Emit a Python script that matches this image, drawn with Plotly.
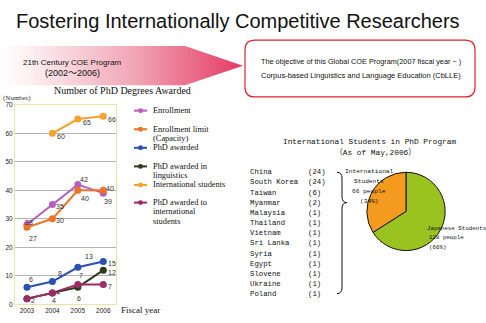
import plotly.graph_objects as go

# ---------------- data ----------------
years = [2003, 2004, 2005, 2006]
enrollment = [28, 35, 42, 39]
enroll_limit = [27, 30, 40, 40]
phd_awarded = [6, 8, 13, 15]
phd_ling = [2, 4, 6, 12]
intl_students = [None, 60, 65, 66]
phd_intl = [2, 4, 7, 7]

series_names = ["Enrollment", "Enrollment limit<br>(Capacity)", "PhD awarded",
                "PhD awarded in<br>linguistics", "International students",
                "PhD awarded to<br>international<br>students"]
series_colors = ["#b65fbf", "#f07224", "#2b50b4", "#2e3a1c", "#f5a22e", "#9c2b68"]

countries = ["China", "South Korea", "Taiwan", "Myanmar", "Malaysia", "Thailand",
             "Vietnam", "Sri Lanka", "Syria", "Egypt", "Slovene", "Ukraine", "Poland"]
country_counts = [24, 24, 6, 2, 1, 1, 1, 1, 1, 1, 1, 1, 1]

pie_labels = ["Japanese Students", "International Students"]
pie_values = [128, 66]
pie_colors = ["#9ac31f", "#f39a1f"]

W, H = 486, 323
SANS = "Liberation Sans, Arial, sans-serif"
SERIF = "Liberation Serif, Times New Roman, serif"
MONO = "Liberation Mono, DejaVu Sans Mono, monospace"

fig = go.Figure()

def ann(x, y, text, size, font=SANS, color="#111", xanchor="center", yanchor="middle", **kw):
    fig.add_annotation(x=x, y=y, xref="x2", yref="y2", text=text, showarrow=False,
                       xanchor=xanchor, yanchor=yanchor,
                       font=dict(family=font, size=size, color=color), **kw)

# ---- gradient arrow ----
fig.add_trace(go.Scatter(x=[0, 185, 243, 185, 0, 0], y=[43, 43, 63, 83, 83, 43],
                         xaxis="x2", yaxis="y2", mode="lines", fill="toself",
                         line=dict(width=0), showlegend=False, hoverinfo="skip",
                         fillgradient=dict(type="horizontal",
                                           colorscale=[[0, "rgba(255,255,255,1)"],
                                                       [0.12, "#fdf0f2"],
                                                       [0.55, "#f1a6b6"],
                                                       [1, "#e53a63"]])))

# ---- line chart ----
label_specs = [
    (enrollment, [(2, 2), (8, -2), (6, 5), (5, -8)], [True]*4),
    (enroll_limit, [(6, -11), (8, -2), (7, -8), (7, 2)], [True]*4),
    (phd_awarded, [(4, 8), (8, 8), (11, 11), (9, -2)], [True]*4),
    (phd_ling, [(6, -2), (2, -8), (1, -11), (9, -2)], [True]*4),
    (intl_students, [(0, 0), (9, -3), (9, -3), (9, -3)], [False, True, True, True]),
    (phd_intl, [(0, 0), (6, 0), (3, 9), (7, -2)], [False, True, True, True]),
]

for (vals, offs, show), name, col in zip(label_specs, series_names, series_colors):
    fig.add_trace(go.Scatter(x=years, y=vals, mode="lines+markers", name=name,
                             line=dict(color=col, width=2),
                             marker=dict(color=col, size=7),
                             showlegend=False, connectgaps=False, cliponaxis=False))
    for yr, v, (dx, dy), s in zip(years, vals, offs, show):
        if v is None or not s:
            continue
        fig.add_annotation(x=yr, y=v, xref="x", yref="y", text=str(v), showarrow=False,
                           xshift=dx, yshift=dy,
                           font=dict(family=SANS, size=7, color="#333"))

# custom legend
leg_y = [109, 128, 147, 166, 185, 203]
for name, col, y in zip(series_names, series_colors, leg_y):
    fig.add_shape(type="line", xref="x2", yref="y2", x0=134, x1=147, y0=y, y1=y,
                  line=dict(color=col, width=2))
    fig.add_shape(type="circle", xref="x2", yref="y2", x0=138, x1=143, y0=y - 2.5, y1=y + 2.5,
                  fillcolor=col, line=dict(color=col, width=0))
    for i, line in enumerate(name.split("<br>")):
        ann(151, y + i * 9.5, line, 8.4, font=SERIF, xanchor="left")

ann(122, 88, "Number of PhD Degrees Awarded", 10, font=SERIF)
ann(1, 96, "(Number)", 7, font=SERIF, xanchor="left", color="#333")
ann(119, 313, "Fiscal year", 9, font=SERIF, xanchor="left")

# ---- title & arrow texts ----
ann(238, 17, "Fostering Internationally Competitive Researchers", 20)
ann(72, 60, "21th Century COE Program", 8)
ann(72, 71, "(2002～2006)", 9, font="Liberation Sans, Noto Sans CJK JP")

# ---- rounded box ----
x0, x1, y0, y1, r = 245, 475, 37, 95, 10
path = (f"M {x0+r},{y0} L {x1-r},{y0} Q {x1},{y0} {x1},{y0+r} L {x1},{y1-r} "
        f"Q {x1},{y1} {x1-r},{y1} L {x0+r},{y1} Q {x0},{y1} {x0},{y1-r} "
        f"L {x0},{y0+r} Q {x0},{y0} {x0+r},{y0} Z")
fig.add_shape(type="path", xref="x2", yref="y2", path=path,
              line=dict(color="#e2242c", width=1.2), fillcolor="white")
ann(361, 59, "The objective of this Global COE Program(2007 fiscal year ~ )", 7.3)
ann(361, 73, "Corpus-based Linguistics and Language Education (CbLLE)", 7.5)

# ---- pie section ----
ann(369, 141, "International Students in PhD Program", 7.8, font=MONO)
ann(375, 152, "（As of May,2006）", 7.8, font="Liberation Mono, Noto Sans CJK JP")

for i, (c, n) in enumerate(zip(countries, country_counts)):
    yy = 172 + i * 10.4
    ann(248, yy, c, 7.3, font=MONO, xanchor="left")
    ann(306, yy, f"({n})", 7.3, font=MONO, xanchor="left")

brace = ("M 337,172 Q 342,172 342,178 L 342,197 Q 342,203 347,203 "
         "Q 342,203 342,209 L 342,290 Q 342,296 337,296")
fig.add_shape(type="path", xref="x2", yref="y2", path=brace,
              line=dict(color="#111", width=1))

total = sum(pie_values)
cx, cy, rad = 406, 212, 40
fig.add_trace(go.Pie(labels=pie_labels, values=pie_values, sort=False,
                     direction="clockwise", rotation=0,
                     marker=dict(colors=pie_colors, line=dict(color="#111", width=1)),
                     textinfo="none", showlegend=False, hoverinfo="skip",
                     domain=dict(x=[(cx - rad) / W, (cx + rad) / W],
                                 y=[1 - (cy + rad) / H, 1 - (cy - rad) / H])))

intl_lines = ["International", "Students", f"{pie_values[1]} people",
              f"({round(100*pie_values[1]/total)}%)"]
for i, t in enumerate(intl_lines):
    ann(369, 171 + i * 10.3, t, 6.2, font=MONO)
jp_lines = ["Japanese Students", f"{pie_values[0]} people",
            f"({round(100*pie_values[0]/total)}%)"]
for i, t in enumerate(jp_lines):
    ann(425 if i == 0 else 427, 229 + i * 10, t, 5.8, font=MONO, xanchor="left")

fig.update_layout(
    width=W, height=H, margin=dict(l=0, r=0, t=0, b=0),
    paper_bgcolor="white", plot_bgcolor="rgba(0,0,0,0)",
    xaxis=dict(domain=[15 / W, 116 / W], range=[2002.53, 2006.5], tickvals=years,
               showgrid=False, zeroline=False, showline=True, mirror=True,
               linecolor="#ebe5a2", linewidth=1, ticks="",
               tickfont=dict(family=SANS, size=6.5, color="#222")),
    yaxis=dict(domain=[1 - 307 / H, 1 - 103 / H], range=[0, 70], dtick=10,
               showgrid=True, gridcolor="#b4b4b4", zeroline=False,
               showline=True, mirror=True, linecolor="#ebe5a2", linewidth=1,
               ticks="", tickfont=dict(family=SANS, size=6.5, color="#222")),
    xaxis2=dict(domain=[0, 1], range=[0, W], visible=False, anchor="y2"),
    yaxis2=dict(domain=[0, 1], range=[H, 0], visible=False, anchor="x2"),
)

fig.write_html("out.html")
